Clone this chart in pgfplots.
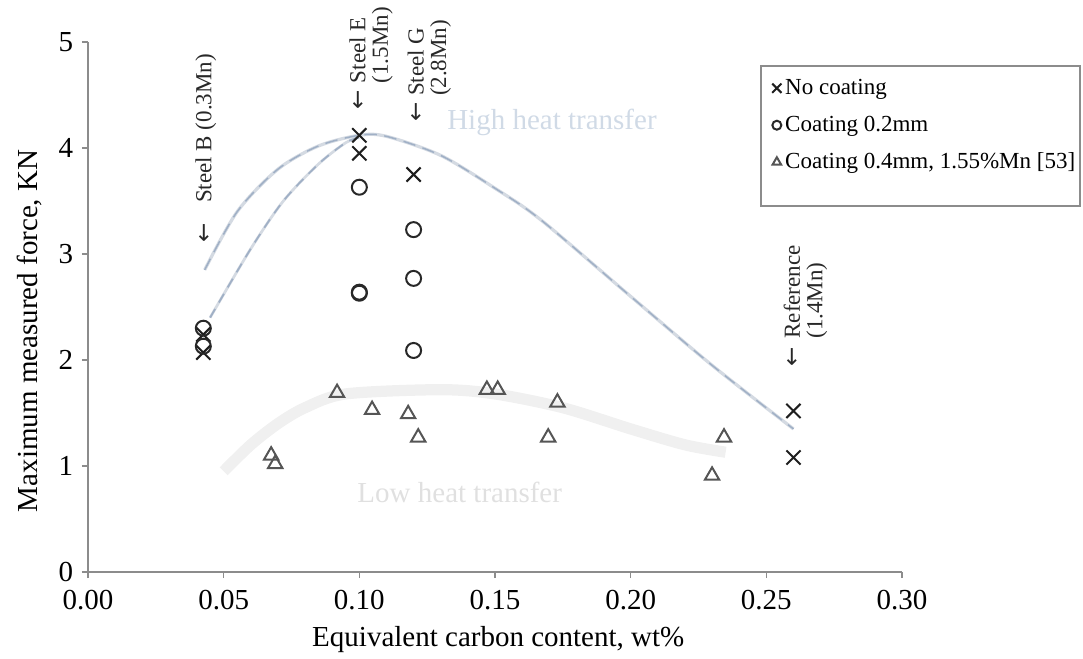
\documentclass[border=0pt]{standalone}
\usepackage{fontspec}
\setmainfont{Liberation Serif}
\newfontfamily\arrowfont{DejaVu Sans}
\usepackage{pgfplots}
\pgfplotsset{compat=1.18}
\definecolor{xcol}{RGB}{30,30,30}
\definecolor{ocol}{RGB}{40,40,40}
\definecolor{tcol}{RGB}{85,85,85}
\definecolor{axcol}{RGB}{140,140,140}
\definecolor{hiline}{RGB}{212,218,226}
\definecolor{hidash}{RGB}{160,176,198}
\definecolor{loline}{RGB}{240,240,240}
\definecolor{hitext}{RGB}{208,218,230}
\definecolor{lotext}{RGB}{224,224,224}
\definecolor{anncol}{RGB}{40,40,40}
\newcommand{\mainfs}{\fontsize{11.6}{13.9}\selectfont}
\newcommand{\smallfs}{\fontsize{9.2}{9}\selectfont}
\newcommand{\arr}{{\arrowfont ←}}
\pgfplotsset{
  legx/.style={legend image code/.code={\draw[##1,mark size=2.6pt] plot coordinates {(2pt,0pt)};}},
  lego/.style={legend image code/.code={\draw[##1,mark size=1.8pt] plot coordinates {(2pt,0pt)};}},
  legt/.style={legend image code/.code={\draw[##1,mark size=2pt] plot coordinates {(2pt,0pt)};}},
}
\begin{document}
\begin{tikzpicture}[font=\mainfs]
\begin{axis}[
  scale only axis, width=325.6pt, height=212pt,
  xmin=0, xmax=0.30, ymin=0, ymax=5,
  axis x line*=bottom, axis y line*=left,
  axis line style={axcol, line width=0.6pt},
  tick style={axcol, line width=0.6pt},
  tick align=outside, major tick length=2.4pt,
  xtick={0,0.05,0.1,0.15,0.2,0.25,0.3},
  xticklabels={0.00,0.05,0.10,0.15,0.20,0.25,0.30},
  ytick={0,1,2,3,4,5}, yticklabels={0,1,2,3,4,5},
  tick label style={font=\mainfs},
  x tick label style={yshift=-1.5pt},
  xlabel={Equivalent carbon content, wt\%},
  ylabel={Maximum measured force, KN},
  label style={font=\mainfs},
  x label style={at={(axis description cs:0.504,-0.128)}, anchor=center},
  y label style={at={(axis description cs:-0.0713,0.455)}, anchor=center},
  clip=false,
  legend style={draw=none, fill=none, at={(rel axis cs:0.840,0.935)}, anchor=north west,
    font=\smallfs, inner sep=0pt, row sep=5.8pt, column sep=1.5pt,
    nodes={inner sep=0pt, text height=7pt, text depth=2pt}},
  legend cell align=left,
]
% low heat transfer band
\addplot[loline, line width=4.5pt, smooth, forget plot] coordinates {
 (0.05,0.95) (0.06,1.2) (0.07,1.4) (0.08,1.55) (0.095,1.68) (0.13,1.72)
 (0.15,1.68) (0.175,1.55) (0.2,1.35) (0.22,1.2) (0.235,1.13)};
% high heat transfer curves
\addplot[hiline, line width=1.3pt, smooth, forget plot] coordinates {
 (0.043,2.85) (0.055,3.4) (0.07,3.8) (0.085,4.02) (0.1,4.12) (0.11,4.11)
 (0.13,3.93) (0.15,3.62) (0.167,3.32) (0.2,2.6) (0.23,1.95) (0.26,1.35)};
\addplot[hidash, line width=0.6pt, smooth, dash pattern=on 5pt off 3pt, forget plot] coordinates {
 (0.043,2.85) (0.055,3.4) (0.07,3.8) (0.085,4.02) (0.1,4.12) (0.11,4.11)
 (0.13,3.93) (0.15,3.62) (0.167,3.32) (0.2,2.6) (0.23,1.95) (0.26,1.35)};
\addplot[hiline, line width=1.1pt, smooth, forget plot] coordinates {
 (0.045,2.4) (0.06,3.05) (0.072,3.5) (0.085,3.85) (0.095,4.05) (0.10,4.1)};
\addplot[hidash, line width=0.7pt, smooth, dash pattern=on 4pt off 3pt, forget plot] coordinates {
 (0.045,2.4) (0.06,3.05) (0.072,3.5) (0.085,3.85) (0.095,4.05) (0.10,4.1)};
\node[text=hitext, font=\mainfs] at (axis cs:0.171,4.24) {High heat transfer};
\node[text=lotext, font=\mainfs] at (axis cs:0.137,0.75) {Low heat transfer};
% data
\addplot[only marks, mark=x, mark size=4pt, xcol, line width=0.8pt, legx] coordinates {
 (0.0425,2.07) (0.0425,2.24) (0.10,4.12) (0.10,3.95) (0.12,3.75) (0.26,1.52) (0.26,1.08)};
\addlegendentry{No coating}
\addplot[only marks, mark=o, mark size=3pt, ocol, line width=0.8pt, lego] coordinates {
 (0.0425,2.13) (0.0425,2.3) (0.10,3.63) (0.10,2.64) (0.10,2.63) (0.12,3.23) (0.12,2.77) (0.12,2.09)};
\addlegendentry{Coating 0.2mm}
\addplot[only marks, mark=triangle, mark size=3.3pt, tcol, line width=0.8pt, legt] coordinates {
 (0.0675,1.10) (0.069,1.02) (0.0918,1.69) (0.1047,1.53) (0.118,1.49) (0.1217,1.27)
 (0.147,1.72) (0.151,1.72) (0.173,1.60) (0.1696,1.27) (0.2344,1.27) (0.230,0.91)};
\addlegendentry{Coating 0.4mm, 1.55\%Mn [53]}
% annotations
\node[rotate=90, anchor=north west, inner sep=0pt, font=\smallfs, align=left, text=anncol]
  at (axis cs:0.0394,3.10) {\arr\hspace{0.9em}Steel B (0.3Mn)};
\node[rotate=90, anchor=north west, inner sep=0pt, font=\smallfs, align=left, text=anncol]
  at (axis cs:0.0962,4.36) {\arr\hspace{0.3em}Steel E\\\phantom{\arr\hspace{0.3em}}(1.5Mn)};
\node[rotate=90, anchor=north west, inner sep=0pt, font=\smallfs, align=left, text=anncol]
  at (axis cs:0.1176,4.25) {\arr\hspace{0.25em}Steel G\\\phantom{\arr\hspace{0.25em}}(2.8Mn)};
\node[rotate=90, anchor=north west, inner sep=0pt, font=\smallfs, align=left, text=anncol]
  at (axis cs:0.2562,1.93) {\arr\hspace{0.4em}Reference\\\phantom{\arr\hspace{0.4em}}(1.4Mn)};
% legend frame
\draw[axcol, line width=0.6pt] (rel axis cs:0.8268,0.6906) rectangle (rel axis cs:1.2187,0.9547);
\coordinate (O) at (rel axis cs:0,0);
\end{axis}
\pgfresetboundingbox
\path[use as bounding box] (O) ++(-35.2pt,-34.4pt) rectangle ++(433.2pt,263.2pt);
\end{tikzpicture}
\end{document}
